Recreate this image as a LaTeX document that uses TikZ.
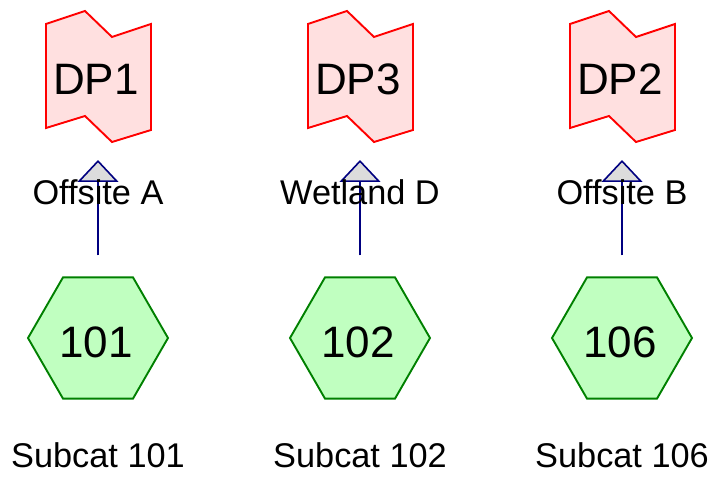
\documentclass[tikz,border=0pt]{standalone}
\usepackage{fontspec}
\setmainfont{Liberation Sans}
\usetikzlibrary{shapes.geometric,arrows.meta,calc}
\definecolor{dpfill}{HTML}{FFE0E0}
\definecolor{dpline}{HTML}{FF0000}
\definecolor{hexfill}{HTML}{C0FFC0}
\definecolor{hexline}{HTML}{008000}
\definecolor{arrline}{HTML}{000080}
\definecolor{tipfill}{HTML}{DCDCDC}
\tikzset{
  dpshape/.style={draw=dpline, fill=dpfill, line width=1.9pt, line join=miter},
  hexbox/.style={regular polygon, regular polygon sides=6, minimum size=140pt, inner sep=0pt,
    draw=hexline, fill=hexfill, line width=1.9pt, font=\fontsize{44}{50}\selectfont},
  dptext/.style={anchor=base, font=\fontsize{44}{50}\selectfont, inner sep=0pt},
  lbl/.style={anchor=base, font=\fontsize{34.3}{40}\selectfont, inner sep=0pt},
  arr/.style={draw=arrline, line width=1.9pt,
    -{Triangle[width=41pt,length=22pt,fill=tipfill,line width=1.6pt]}},
}
\newcommand{\dpflag}[1]{%
  \path[dpshape] ($(#1)+(-52,-53)$) -- ($(#1)+(-13,-66)$) -- ($(#1)+(14,-40)$) -- ($(#1)+(53,-53)$)
     -- ($(#1)+(53,53)$) -- ($(#1)+(14,65)$) -- ($(#1)+(-13,39)$) -- ($(#1)+(-52,51)$) -- cycle;}
\begin{document}
\begin{tikzpicture}[x=1pt,y=-1pt]
\useasboundingbox (0,0) rectangle (720,486);
% centres of the DP shapes
\coordinate (c1) at (98,77);
\coordinate (c3) at (360,77);
\coordinate (c2) at (622,77);
\dpflag{c1}
\dpflag{c3}
\dpflag{c2}
\node[dptext] (d1) at (96,95) {DP1};
\node[dptext] (d3) at (358,95) {DP3};
\node[dptext] (d2) at (620,95) {DP2};
% hexagons
\node[hexbox] (h1) at (98,338) {};
\node[hexbox] (h2) at (360,338) {};
\node[hexbox] (h6) at (622,338) {};
\node[dptext] (t1) at (96,357) {101};
\node[dptext] (t2) at (358,357) {102};
\node[dptext] (t6) at (620,357) {106};
% arrow ends
\coordinate (a1) at (98,160);
\coordinate (a3) at (360,160);
\coordinate (a2) at (622,160);
\draw[arr, shorten <=21pt] (h1.north) -- (a1);
\draw[arr, shorten <=21pt] (h2.north) -- (a3);
\draw[arr, shorten <=21pt] (h6.north) -- (a2);
% labels
\node[lbl] (l1) at (98,205) {Offsite A};
\node[lbl] (l3) at (360,205) {Wetland D};
\node[lbl] (l2) at (622,205) {Offsite B};
\node[lbl] (s1) at (98,467) {Subcat 101};
\node[lbl] (s2) at (360,467) {Subcat 102};
\node[lbl] (s6) at (622,467) {Subcat 106};
\end{tikzpicture}
\end{document}
